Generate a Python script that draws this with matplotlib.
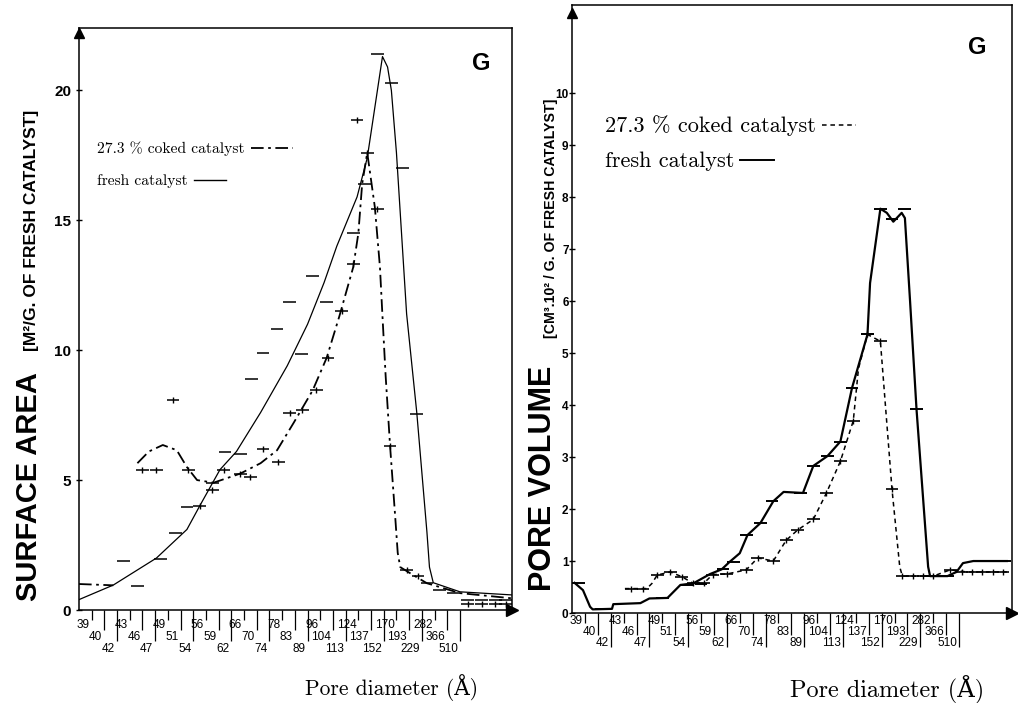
import numpy as np
import matplotlib
matplotlib.use("Agg")
import matplotlib.pyplot as plt
from matplotlib.transforms import offset_copy

# ---------------- data ----------------
pore_labels = ["39", "40", "42", "43", "46", "47", "49", "51", "54", "56",
               "59", "62", "66", "70", "74", "78", "83", "89", "96", "104",
               "113", "124", "137", "152", "170", "193", "229", "282", "366", "510"]
tick_pos = list(range(1, len(pore_labels) + 1))

# Left panel: surface area (m2/g of fresh catalyst), x in tick-index units
fresh_sa_x = [0.0, 2.7, 6.1, 8.5, 9.5, 11.1, 12.4, 14.3, 16.4, 18.0, 19.3, 20.3, 21.9, 22.7,
              23.9, 24.3, 24.6, 25.0, 25.8, 26.6, 27.4, 27.6, 27.9, 30.0, 34.1]
fresh_sa_y = [0.4, 0.96, 2.0, 3.1, 4.0, 5.4, 6.1, 7.6, 9.4, 11.0, 12.6, 14.0, 15.9, 17.4,
              21.3, 20.9, 20.0, 17.6, 11.4, 7.6, 3.0, 1.65, 1.05, 0.7, 0.58]
coked_sa_x = [0.0, 2.7, np.nan, 4.6, 5.5, 6.6, 7.7, 8.5, 9.3, 10.6, 12.7, 14.3, 15.6, 16.9,
              18.4, 19.5, 20.5, 21.6, 22.0, 22.3, 22.7, 23.3, 23.7, 23.9, 24.15, 24.5,
              24.9, 25.1, 25.3, 26.3, 27.4, 30.0, 34.1]
coked_sa_y = [1.0, 0.95, np.nan, 5.65, 6.1, 6.35, 6.15, 5.5, 5.0, 4.9, 5.25, 5.65, 6.15, 7.2,
              8.45, 9.7, 11.3, 13.2, 14.5, 16.4, 17.6, 15.5, 13.2, 11.3, 9.0, 6.3,
              3.6, 2.2, 1.65, 1.35, 1.03, 0.65, 0.45]
fresh_sa_bar_x = [3.5, 4.6, 6.4, 7.6, 8.5, 10.5, 11.5, 12.7, 13.6, 14.5, 15.6, 16.6, 17.5,
                  18.4, 19.5, 21.6, 22.5, 23.5, 24.6, 25.5, 26.6, 27.4, 28.4, 29.5,
                  30.6, 31.7, 32.8, 33.6]
fresh_sa_bar_y = [1.9, 0.92, 1.96, 2.95, 3.97, 4.9, 6.1, 6.0, 8.9, 9.9, 10.8, 11.85, 9.85,
                  12.85, 11.85, 14.5, 16.4, 21.4, 20.3, 17.0, 7.55, 1.05, 0.77, 0.65,
                  0.38, 0.38, 0.38, 0.38]
coked_sa_bar_x = [5.0, 6.1, 7.4, 8.6, 9.5, 10.5, 11.4, 12.7, 13.5, 14.5, 15.7, 16.6, 17.6,
                  18.7, 19.6, 20.7, 21.6, 21.9, 22.7, 23.5, 24.5, 25.8, 26.7,
                  30.6, 31.7, 32.8, 33.6]
coked_sa_bar_y = [5.4, 5.4, 8.1, 5.4, 4.0, 4.6, 5.4, 5.25, 5.1, 6.2, 5.7, 7.6, 7.7,
                  8.45, 9.7, 11.5, 13.3, 18.85, 17.6, 15.45, 6.3, 1.55, 1.3,
                  0.25, 0.25, 0.25, 0.25]

# Right panel: pore volume (cm3.10^2 / g of fresh catalyst)
fresh_pv_x = [0.2, 0.85, 1.4, 1.6, 3.1, 3.2, 5.3, 6.0, 7.4, 8.4, 9.4, 10.7, 11.6, 12.2, 13.0,
              13.6, 14.6, 15.6, 16.4, 17.9, 18.7, 19.8, 20.8, 21.7, 22.9, 23.1, 23.9, 24.4,
              24.9, 25.55, 25.8, 26.2, 26.7, 27.6, 27.75, 29.1, 29.8, 30.3, 31.1, 33.7]
fresh_pv_y = [0.58, 0.44, 0.12, 0.07, 0.08, 0.17, 0.19, 0.28, 0.29, 0.54, 0.57, 0.75, 0.84,
              0.98, 1.15, 1.5, 1.73, 2.15, 2.33, 2.31, 2.83, 3.02, 3.3, 4.33, 5.36, 6.35,
              7.78, 7.7, 7.53, 7.7, 7.6, 6.0, 3.92, 0.89, 0.71, 0.71, 0.79, 0.96, 1.0, 1.0]
coked_pv_x = [4.1, 5.8, 6.2, 6.6, 7.6, 8.0, 8.5, 9.4, 10.2, 10.9, 12.0, 13.5, 14.4, 15.6,
              16.6, 17.5, 18.7, 19.7, 20.8, 21.8, 22.2, 22.9, 23.9, 24.8, 25.4, 25.6,
              28.0, 29.3, 30.6, 33.7]
coked_pv_y = [0.47, 0.47, 0.57, 0.73, 0.79, 0.75, 0.70, 0.57, 0.57, 0.74, 0.75, 0.83, 1.06,
              1.0, 1.4, 1.6, 1.8, 2.3, 2.92, 3.7, 4.7, 5.36, 5.23, 2.38, 0.89, 0.71,
              0.71, 0.83, 0.79, 0.79]
fresh_pv_bar_x = [0.5, 2.3, 7.0, 8.9, 10.0, 11.7, 12.5, 13.5, 14.6, 15.5, 17.7, 18.7, 19.8,
                  20.8, 21.7, 22.9, 23.9, 24.8, 25.8, 26.7, 27.8, 29.1, 31.6, 32.6, 33.5]
fresh_pv_bar_y = [0.58, 0.08, 0.29, 0.54, 0.56, 0.84, 0.98, 1.5, 1.73, 2.15, 2.31, 2.83,
                  3.02, 3.3, 4.33, 5.36, 7.78, 7.59, 7.77, 3.92, 0.71, 0.71, 1.0, 1.0, 1.0]
coked_pv_bar_x = [4.6, 5.5, 6.6, 7.6, 8.5, 9.4, 10.2, 10.9, 12.0, 13.5, 14.4, 15.6, 16.6,
                  17.5, 18.7, 19.7, 20.8, 21.8, 22.9, 23.9, 24.8, 25.6, 26.4, 27.2, 28.0,
                  29.3, 30.2, 31.0, 31.8, 32.6, 33.4]
coked_pv_bar_y = [0.47, 0.47, 0.73, 0.79, 0.70, 0.57, 0.57, 0.74, 0.75, 0.83, 1.06, 1.0,
                  1.4, 1.6, 1.8, 2.3, 2.92, 3.7, 5.36, 5.23, 2.38, 0.71, 0.71, 0.71, 0.71,
                  0.83, 0.79, 0.79, 0.79, 0.79, 0.79]

legend_coked = "27.3 % coked catalyst"
legend_fresh = "fresh catalyst"
xlabel = "Pore diameter (Å)"

# ---------------- figure ----------------
W, H = 1018, 703
fig = plt.figure(figsize=(W / 100, H / 100), dpi=100)
fig.patch.set_facecolor("white")
SERIF = ["cmr10", "DejaVu Serif"]
SANS = ["Liberation Sans", "DejaVu Sans"]


def px_axes(l, r, t, b):
    return fig.add_axes([l / W, 1 - b / H, (r - l) / W, (b - t) / H])


def setup(ax, ylim, yticks, hpx, lab_off, tick_len, ytick_size, ypad, arrow_y):
    ax.set_xlim(0, 34.1)
    ax.set_ylim(0, ylim)
    ax.set_xticks([])
    ax.set_yticks(yticks)
    ax.set_yticklabels([str(v) for v in yticks], fontweight="bold",
                       fontsize=ytick_size, family=SANS)
    ax.tick_params(axis="y", direction="inout", length=5, width=1, pad=ypad)
    for s in ax.spines.values():
        s.set_linewidth(1.1)
    trans = ax.get_xaxis_transform()
    ltrans = offset_copy(trans, fig=fig, x=-2, y=0, units="dots")
    for i, (p, lab) in enumerate(zip(tick_pos, pore_labels)):
        r = i % 3
        ax.vlines(p, -tick_len[r] / hpx, 0, transform=trans, colors="black",
                  lw=0.9, clip_on=False)
        ax.text(p, -lab_off[r] / hpx, lab, transform=ltrans, ha="right", va="center",
                fontsize=8.5, family=SANS, color="black")
    ax.plot([0], [arrow_y], marker="^", ms=7, color="black", transform=ax.transAxes,
            clip_on=False)
    ax.plot([1], [0], marker=">", ms=8, color="black", transform=ax.transAxes,
            clip_on=False)


def bars(ax, xs, ys, cross=False, lw=1.2):
    xs = np.asarray(xs)
    ys = np.asarray(ys)
    ax.hlines(ys, xs - 0.5, xs + 0.5, colors="black", lw=lw)
    if cross:
        ax.plot(xs, ys, "|", ms=5, mew=1.0, color="black")


ax1 = px_axes(79, 512, 28, 610)
ax2 = px_axes(572, 1012, 5, 613)

setup(ax1, 22.4, [0, 5, 10, 15, 20], 582, (15, 27, 39), (10, 20, 31), 11, 3, 1 - 5 / 582)
setup(ax2, 11.7, list(range(0, 11)), 608, (8, 19, 30), (10, 22, 34), 8.5, 0, 1 - 8 / 608)

# left curves
ax1.plot(fresh_sa_x, fresh_sa_y, color="black", lw=0.9)
ax1.plot(coked_sa_x, coked_sa_y, color="black", lw=1.3, dashes=(7, 2.5, 1.5, 2.5))
bars(ax1, fresh_sa_bar_x, fresh_sa_bar_y, cross=False, lw=1.1)
bars(ax1, coked_sa_bar_x, coked_sa_bar_y, cross=True, lw=1.1)

# right curves
ax2.plot(fresh_pv_x, fresh_pv_y, color="black", lw=1.6)
ax2.plot(coked_pv_x, coked_pv_y, color="black", lw=1.1, dashes=(3, 2.5))
bars(ax2, fresh_pv_bar_x, fresh_pv_bar_y, cross=False, lw=1.4)
bars(ax2, coked_pv_bar_x, coked_pv_bar_y, cross=True, lw=1.2)

# "G" labels
fig.text(481 / W, 1 - 63 / H, "G", fontsize=17, fontweight="bold", family=SANS,
         ha="center", va="center")
fig.text(977 / W, 1 - 47 / H, "G", fontsize=17, fontweight="bold", family=SANS,
         ha="center", va="center")

# y labels
fig.text(29 / W, 1 - 487 / H, "SURFACE AREA", rotation=90, fontsize=21,
         fontweight="bold", family=SANS, ha="center", va="center")
fig.text(32 / W, 1 - 230 / H, "[M²/G. OF FRESH CATALYST]", rotation=90, fontsize=12.5,
         fontweight="bold", family=SANS, ha="center", va="center")
fig.text(543 / W, 1 - 478 / H, "PORE VOLUME", rotation=90, fontsize=22,
         fontweight="bold", family=SANS, ha="center", va="center")
fig.text(551 / W, 1 - 218 / H, "[CM³.10² / G. OF FRESH CATALYST]", rotation=90,
         fontsize=10.2, fontweight="bold", family=SANS, ha="center", va="center")

# x labels
fig.text(392 / W, 1 - 688 / H, xlabel, fontsize=15.5, family=SERIF, ha="center",
         va="center")
fig.text(887 / W, 1 - 690 / H, xlabel, fontsize=17.5, family=SERIF, ha="center",
         va="center")

# legends (text followed by a line sample)
fig.canvas.draw()
renderer = fig.canvas.get_renderer()


def legend_row(x, y, text, size, lw, dashes, length):
    t = fig.text(x / W, 1 - y / H, text, fontsize=size, family=SERIF, ha="left",
                 va="center")
    bb = t.get_window_extent(renderer=renderer)
    x0 = bb.x1 + 6
    yy = (H - y) + 1
    ln = matplotlib.lines.Line2D([x0 / W, (x0 + length) / W], [yy / H, yy / H],
                                 transform=fig.transFigure, color="black", lw=lw)
    if dashes is not None:
        ln.set_dashes(dashes)
    fig.add_artist(ln)


legend_row(97, 149, legend_coked, 11.2, 1.3, (7, 2.5, 1.5, 2.5), 42)
legend_row(97, 181, legend_fresh, 11.2, 1.0, None, 32)
legend_row(605, 126, legend_coked, 16, 1.1, (3, 2.5), 34)
legend_row(605, 161, legend_fresh, 16, 1.4, None, 34)

fig.savefig("out.png", dpi=100, facecolor="white")
